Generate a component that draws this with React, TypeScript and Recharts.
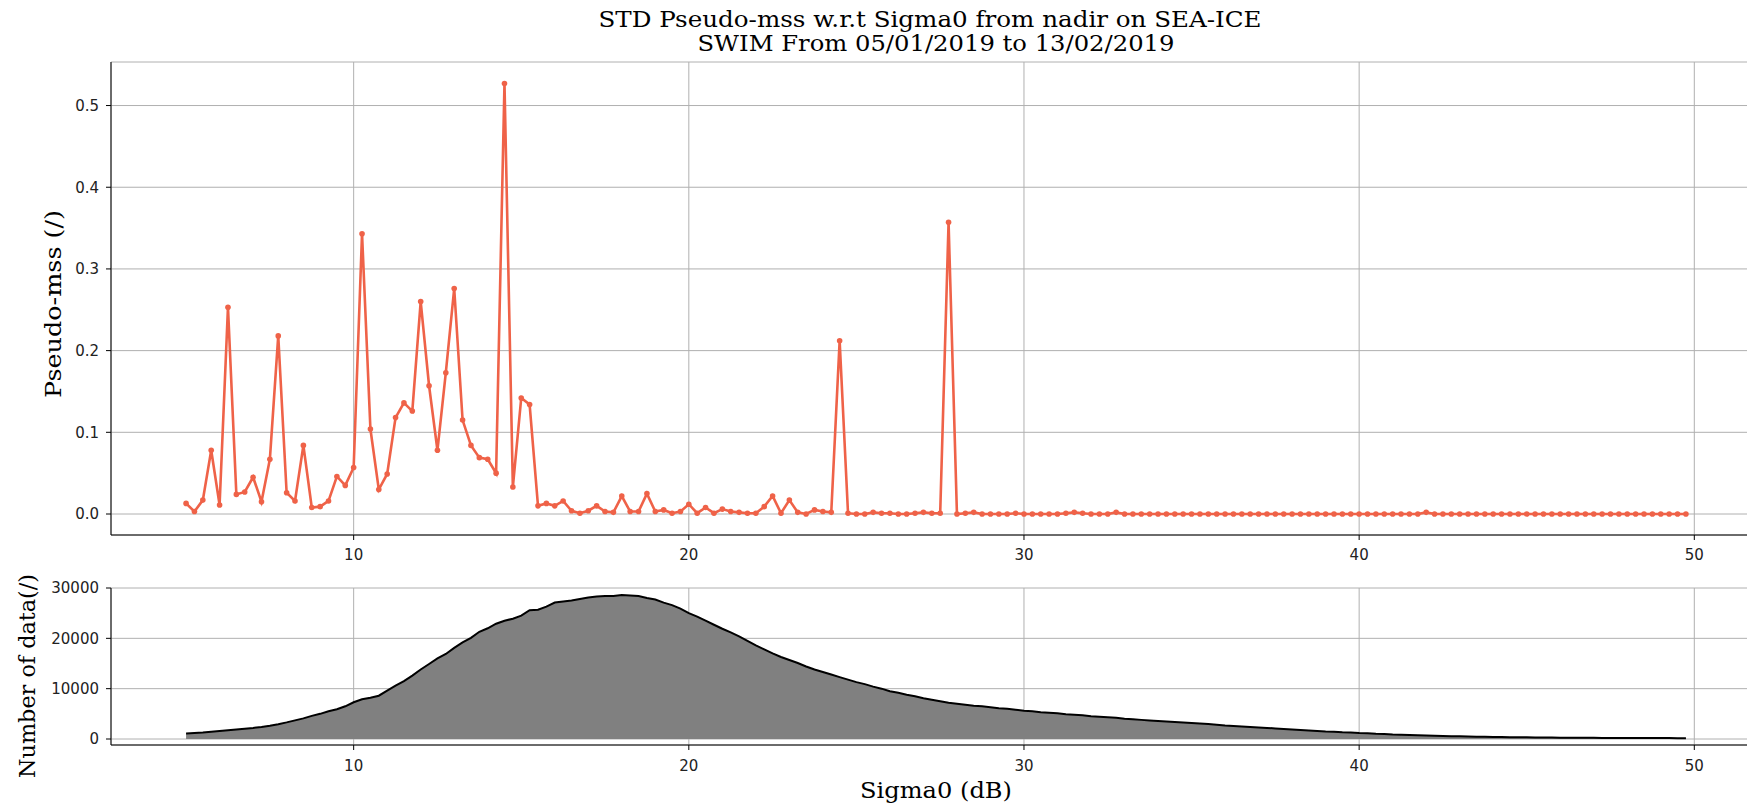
import { LineChart, Line, AreaChart, Area, XAxis, YAxis, CartesianGrid } from 'recharts';

// Sigma0 bins (dB), one row per dB
const sigma0 = [
  5, 5.25, 5.5, 5.75, 6, 6.25, 6.5, 6.75, 7, 7.25, 7.5, 7.75, 8, 8.25, 8.5, 8.75,
  9, 9.25, 9.5, 9.75, 10, 10.25, 10.5, 10.75, 11, 11.25, 11.5, 11.75, 12, 12.25, 12.5, 12.75,
  13, 13.25, 13.5, 13.75, 14, 14.25, 14.5, 14.75, 15, 15.25, 15.5, 15.75, 16, 16.25, 16.5, 16.75,
  17, 17.25, 17.5, 17.75, 18, 18.25, 18.5, 18.75, 19, 19.25, 19.5, 19.75, 20, 20.25, 20.5, 20.75,
  21, 21.25, 21.5, 21.75, 22, 22.25, 22.5, 22.75, 23, 23.25, 23.5, 23.75, 24, 24.25, 24.5, 24.75,
  25, 25.25, 25.5, 25.75, 26, 26.25, 26.5, 26.75, 27, 27.25, 27.5, 27.75, 28, 28.25, 28.5, 28.75,
  29, 29.25, 29.5, 29.75, 30, 30.25, 30.5, 30.75, 31, 31.25, 31.5, 31.75, 32, 32.25, 32.5, 32.75,
  33, 33.25, 33.5, 33.75, 34, 34.25, 34.5, 34.75, 35, 35.25, 35.5, 35.75, 36, 36.25, 36.5, 36.75,
  37, 37.25, 37.5, 37.75, 38, 38.25, 38.5, 38.75, 39, 39.25, 39.5, 39.75, 40, 40.25, 40.5, 40.75,
  41, 41.25, 41.5, 41.75, 42, 42.25, 42.5, 42.75, 43, 43.25, 43.5, 43.75, 44, 44.25, 44.5, 44.75,
  45, 45.25, 45.5, 45.75, 46, 46.25, 46.5, 46.75, 47, 47.25, 47.5, 47.75, 48, 48.25, 48.5, 48.75,
  49, 49.25, 49.5, 49.75,
];

const pseudoMssStd = [
  0.013, 0.003, 0.017, 0.078, 0.011, 0.253, 0.024, 0.027, // 5-6
  0.045, 0.015, 0.067, 0.218, 0.026, 0.016, 0.084, 0.008, // 7-8
  0.009, 0.016, 0.046, 0.035, 0.057, 0.343, 0.104, 0.030, // 9-10
  0.049, 0.118, 0.136, 0.126, 0.260, 0.157, 0.078, 0.173, // 11-12
  0.276, 0.115, 0.084, 0.069, 0.067, 0.050, 0.527, 0.033, // 13-14
  0.142, 0.134, 0.010, 0.013, 0.010, 0.016, 0.004, 0.001, // 15-16
  0.004, 0.010, 0.003, 0.002, 0.022, 0.003, 0.003, 0.025, // 17-18
  0.003, 0.005, 0.001, 0.003, 0.012, 0.001, 0.008, 0.001, // 19-20
  0.006, 0.003, 0.002, 0.001, 0.001, 0.009, 0.022, 0.001, // 21-22
  0.017, 0.002, 0.000, 0.005, 0.003, 0.002, 0.212, 0.001, // 23-24
  0.000, 0.000, 0.002, 0.001, 0.001, 0.000, 0.000, 0.001, // 25-26
  0.002, 0.001, 0.001, 0.357, 0.000, 0.001, 0.002, 0.000, // 27-28
  0.000, 0.000, 0.000, 0.001, 0.000, 0.000, 0.000, 0.000, // 29-30
  0.000, 0.001, 0.002, 0.001, 0.000, 0.000, 0.000, 0.002, // 31-32
  0.000, 0.000, 0.000, 0.000, 0.000, 0.000, 0.000, 0.000, // 33-34
  0.000, 0.000, 0.000, 0.000, 0.000, 0.000, 0.000, 0.000, // 35-36
  0.000, 0.000, 0.000, 0.000, 0.000, 0.000, 0.000, 0.000, // 37-38
  0.000, 0.000, 0.000, 0.000, 0.000, 0.000, 0.000, 0.000, // 39-40
  0.000, 0.000, 0.000, 0.000, 0.002, 0.000, 0.000, 0.000, // 41-42
  0.000, 0.000, 0.000, 0.000, 0.000, 0.000, 0.000, 0.000, // 43-44
  0.000, 0.000, 0.000, 0.000, 0.000, 0.000, 0.000, 0.000, // 45-46
  0.000, 0.000, 0.000, 0.000, 0.000, 0.000, 0.000, 0.000, // 47-48
  0.000, 0.000, 0.000, 0.000, // 49
];

const dataCount = [
  1100, 1200, 1300, 1450, 1600, 1750, 1900, 2050, // 5-6
  2200, 2400, 2650, 2950, 3300, 3700, 4100, 4600, // 7-8
  5000, 5500, 5900, 6500, 7300, 7900, 8200, 8600, // 9-10
  9600, 10600, 11500, 12600, 13800, 14900, 16000, 16900, // 11-12
  18100, 19200, 20100, 21300, 22000, 22900, 23500, 23900, // 13-14
  24500, 25600, 25700, 26300, 27100, 27300, 27500, 27800, // 15-16
  28100, 28300, 28400, 28400, 28600, 28500, 28400, 28000, // 17-18
  27700, 27100, 26600, 25900, 25000, 24300, 23500, 22700, // 19-20
  21900, 21200, 20400, 19500, 18600, 17800, 17000, 16300, // 21-22
  15700, 15100, 14400, 13800, 13300, 12800, 12300, 11800, // 23-24
  11300, 10900, 10400, 10000, 9500, 9200, 8800, 8500, // 25-26
  8100, 7800, 7500, 7200, 7000, 6800, 6600, 6500, // 27-28
  6300, 6100, 6000, 5800, 5600, 5500, 5300, 5200, // 29-30
  5100, 4900, 4800, 4700, 4500, 4400, 4300, 4200, // 31-32
  4000, 3900, 3800, 3700, 3600, 3500, 3400, 3300, // 33-34
  3200, 3100, 3000, 2850, 2700, 2600, 2500, 2400, // 35-36
  2300, 2200, 2100, 2000, 1900, 1800, 1700, 1600, // 37-38
  1500, 1450, 1350, 1300, 1200, 1150, 1050, 1000, // 39-40
  900, 850, 800, 750, 700, 650, 600, 570, // 41-42
  530, 500, 470, 440, 420, 400, 370, 350, // 43-44
  330, 310, 300, 280, 270, 260, 250, 240, // 45-46
  230, 220, 210, 210, 200, 200, 190, 190, // 47-48
  180, 180, 170, 170, // 49
];

const xTicks = [10, 20, 30, 40, 50];
const mssTicks = [0, 0.1, 0.2, 0.3, 0.4, 0.5];
const countTicks = [0, 10000, 20000, 30000];
const titleLines = ['STD Pseudo-mss w.r.t Sigma0 from nadir on SEA-ICE', 'SWIM From 05/01/2019 to 13/02/2019'];

const data = sigma0.map((s, i) => ({ sigma0: s, std: pseudoMssStd[i], count: dataCount[i] }));

const X_DOMAIN = [2.76, 51.99];
const LINE_COLOR = '#ef6248';
const GRID = '#b0b0b0';
const tickStyle = { fontSize: 15, fill: '#222', fontFamily: 'DejaVu Sans' };
const serif = '"DejaVu Serif", serif';

export default function App() {
  return (
    <div style={{ position: 'fixed', left: 0, top: 0, width: 1747, height: 805, overflow: 'hidden', background: '#fff' }}>
      <div style={{ position: 'absolute', left: 0, top: 0 }}>
        <LineChart width={1800} height={600} data={data} margin={{ top: 62, right: 39, bottom: 35, left: 0 }}>
          <CartesianGrid stroke={GRID} strokeWidth={1} />
          <XAxis
            dataKey="sigma0"
            type="number"
            domain={X_DOMAIN}
            ticks={xTicks}
            height={30}
            tickSize={5}
            tickMargin={9}
            tick={tickStyle}
            stroke="#000"
            allowDataOverflow
          />
          <XAxis xAxisId="top" orientation="top" type="number" domain={X_DOMAIN} height={0} tick={false} tickLine={false} stroke="#000" />
          <YAxis
            type="number"
            domain={[-0.0257, 0.5533]}
            ticks={mssTicks}
            width={111}
            tickSize={5}
            tickMargin={7}
            tick={tickStyle}
            tickFormatter={(v) => v.toFixed(1)}
            stroke="#000"
            allowDataOverflow
          />
          <Line
            dataKey="std"
            stroke={LINE_COLOR}
            strokeWidth={2.6}
            dot={{ r: 2.8, fill: LINE_COLOR, stroke: LINE_COLOR, strokeWidth: 0 }}
            isAnimationActive={false}
          />
        </LineChart>
      </div>
      <div style={{ position: 'absolute', left: 0, top: 560 }}>
        <AreaChart width={1800} height={245} data={data} margin={{ top: 28, right: 39, bottom: 30, left: 0 }}>
          <CartesianGrid stroke={GRID} strokeWidth={1} />
          <XAxis
            dataKey="sigma0"
            type="number"
            domain={X_DOMAIN}
            ticks={xTicks}
            height={30}
            tickSize={5}
            tickMargin={10}
            tick={tickStyle}
            stroke="#000"
            allowDataOverflow
          />
          <XAxis xAxisId="top" orientation="top" type="number" domain={X_DOMAIN} height={0} tick={false} tickLine={false} stroke="#000" />
          <YAxis
            type="number"
            domain={[-1192, 30000]}
            ticks={countTicks}
            width={111}
            tickSize={5}
            tickMargin={7}
            tick={tickStyle}
            stroke="#000"
            allowDataOverflow
          />
          <Area
            dataKey="count"
            type="linear"
            stroke="#000"
            strokeWidth={2}
            fill="#808080"
            fillOpacity={1}
            isAnimationActive={false}
          />
        </AreaChart>
      </div>
      <svg width={1747} height={805} style={{ position: 'absolute', left: 0, top: 0, pointerEvents: 'none' }}>
        <text x={930} y={27} textAnchor="middle" fontFamily={serif} fontSize={22} textLength={663} lengthAdjust="spacingAndGlyphs" fill="#000">
          {titleLines[0]}
        </text>
        <text x={936} y={51} textAnchor="middle" fontFamily={serif} fontSize={22} textLength={477} lengthAdjust="spacingAndGlyphs" fill="#000">
          {titleLines[1]}
        </text>
        <text transform="translate(61,304) rotate(-90)" textAnchor="middle" fontFamily={serif} fontSize={22} textLength={188} lengthAdjust="spacingAndGlyphs" fill="#000">
          Pseudo-mss (/)
        </text>
        <text transform="translate(35,676) rotate(-90)" textAnchor="middle" fontFamily={serif} fontSize={22} textLength={204} lengthAdjust="spacingAndGlyphs" fill="#000">
          Number of data(/)
        </text>
        <text x={936} y={798} textAnchor="middle" fontFamily={serif} fontSize={23} textLength={152} lengthAdjust="spacingAndGlyphs" fill="#000">
          Sigma0 (dB)
        </text>
      </svg>
    </div>
  );
}
